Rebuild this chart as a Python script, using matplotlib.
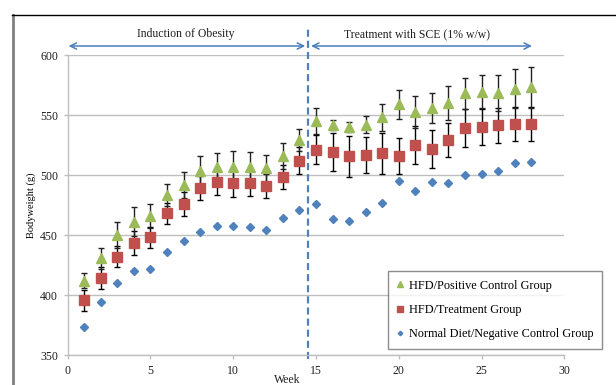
import numpy as np
import matplotlib
matplotlib.use("Agg")
import matplotlib.pyplot as plt
from matplotlib.lines import Line2D

plt.rcParams['font.family'] = ['Liberation Serif', 'DejaVu Serif']

weeks = list(range(1, 29))
hfd_pos = [412, 430.5, 450, 461, 466, 483.5, 491.5, 503.5, 506.5, 507, 507, 505.5, 516, 529,
           545, 541.5, 540, 542, 548, 559, 552.5, 555.5, 560, 568, 569.5, 568.5, 572, 573]
hfd_pos_err = [6, 9, 11, 12, 10, 9, 11, 12.5, 12, 13, 12, 11, 11, 9,
               11, 4, 4, 7, 11, 12, 13, 12.5, 14, 13, 13.5, 15, 16, 17]
hfd_trt = [395.5, 414, 432, 443, 448, 468, 475.5, 489.5, 494, 493, 493.5, 490.5, 498, 512,
           521, 519, 515.5, 517, 518, 516, 525, 521.5, 529, 539, 540, 541.5, 542.5, 542.5]
hfd_trt_err = [9, 9, 9, 10, 9, 9, 10, 10, 11, 11, 11, 10, 10, 11,
               12, 16, 17, 15, 17, 15, 16, 16, 14, 16, 15, 14.5, 14.5, 14.5]
normal = [373.5, 394, 410, 420, 422, 436, 445, 452.5, 457.5, 457.5, 457, 454.5, 464.5, 470.5,
          476, 463, 462, 469.5, 477, 495, 487, 494, 493.5, 500, 501, 503, 510, 510.5]

labels = ["HFD/Positive Control Group", "HFD/Treatment Group",
          "Normal Diet/Negative Control Group"]
green = '#9bbb59'
red = '#c0504d'
blue = '#4f81bd'
grid_col = '#bfbfbf'

fig = plt.figure(figsize=(6.16, 3.85), dpi=100)
ax = fig.add_axes([67.7 / 616, 30 / 385, 496.6 / 616, 300 / 385])

# error bars first, markers on top
ax.errorbar(weeks, hfd_trt, yerr=hfd_trt_err, fmt='none', ecolor='black',
            elinewidth=1, capsize=2.5, capthick=1, zorder=3)
ax.errorbar(weeks, hfd_pos, yerr=hfd_pos_err, fmt='none', ecolor='#222222',
            elinewidth=1, capsize=2.5, capthick=1, zorder=3)
ax.plot(weeks, normal, ls='none', marker='D', ms=3.8, color=blue, zorder=4, label=labels[2])
ax.plot(weeks, hfd_trt, ls='none', marker='s', ms=6.5, color=red, zorder=5, label=labels[1])
ax.plot(weeks, hfd_pos, ls='none', marker='^', ms=6.5, color=green, zorder=6, label=labels[0])

ax.set_xlim(0, 30)
ax.set_ylim(350, 600)
ax.set_xticks(np.arange(0, 31, 5))
ax.set_yticks(np.arange(350, 601, 50))
ax.grid(axis='y', color=grid_col, lw=1)
ax.set_axisbelow(True)
for s in ['top', 'right']:
    ax.spines[s].set_visible(False)
for s in ['left', 'bottom']:
    ax.spines[s].set_color(grid_col)
    ax.spines[s].set_linewidth(1)
ax.tick_params(direction='out', length=3, width=1, color=grid_col,
               labelsize=8.5, labelcolor='#202020', pad=4)

ax.set_ylabel("Bodyweight (g)", fontsize=7.5, labelpad=3)
fig.text(287 / 616, 1 - 374 / 385, "Week", fontsize=8.5, ha='center', va='top', color='#202020')

# phase divider
ax.plot([14.5, 14.5], [347, 623], color=blue, lw=1.6, ls=(0, (3.2, 1.8)),
        clip_on=False, zorder=2)

arrow_col = '#4a7ebb'
ax.annotate('', xy=(0.05, 607.5), xytext=(14.35, 607.5), annotation_clip=False,
            arrowprops=dict(arrowstyle='<->,head_length=0.45,head_width=0.22',
                            color=arrow_col, lw=1.1, shrinkA=0, shrinkB=0))
ax.annotate('', xy=(14.7, 607.5), xytext=(28.05, 607.5), annotation_clip=False,
            arrowprops=dict(arrowstyle='<->,head_length=0.45,head_width=0.22',
                            color=arrow_col, lw=1.1, shrinkA=0, shrinkB=0))
ax.text(7.12, 617.5, "Induction of Obesity", fontsize=8.5, ha='center', va='center',
        color='#202020', clip_on=False)
ax.text(21.1, 617.5, "Treatment with SCE (1% w/w)", fontsize=8.5, ha='center', va='center',
        color='#202020', clip_on=False)

handles, labs = ax.get_legend_handles_labels()
order = [2, 1, 0]
leg = ax.legend([handles[i] for i in order], [labs[i] for i in order],
                loc='upper left', bbox_to_anchor=(0.645, 0.28), borderaxespad=0,
                fontsize=8.8, frameon=True, fancybox=False, edgecolor='#707070',
                handlelength=0.6, handletextpad=0.4, labelspacing=1.0,
                borderpad=0.7, markerscale=0.6)
leg.get_frame().set_linewidth(1)
leg.set_zorder(10)

# outer chart frame
fig.add_artist(Line2D([13 / 616, 13 / 616], [0, 1 - 15 / 385], transform=fig.transFigure,
                      color='#808080', lw=2))
fig.add_artist(Line2D([12 / 616, 1], [1 - 15 / 385, 1 - 15 / 385], transform=fig.transFigure,
                      color='black', lw=1))

fig.savefig("out.png", dpi=100)
